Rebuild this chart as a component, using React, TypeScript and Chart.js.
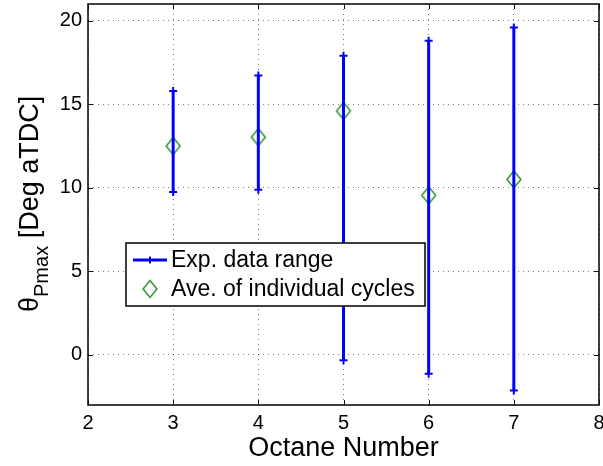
import React, { useEffect, useRef } from 'react';
import { Chart, registerables } from 'chart.js';

Chart.register(...registerables);

// ---- data ----
const octaneNumbers = [3, 4, 5, 6, 7];
const rangeMin = [9.75, 9.89, -0.32, -1.13, -2.13];
const rangeMax = [15.8, 16.72, 17.9, 18.8, 19.6];
const cycleAverages = [12.5, 13.03, 14.6, 9.55, 10.5];
const xTicks = [2, 3, 4, 5, 6, 7, 8];
const yTicks = [0, 5, 10, 15, 20];
const legendLabels = ['Exp. data range', 'Ave. of individual cycles'];
const xTitle = 'Octane Number';
const yTitleMain = 'θ';
const yTitleSub = 'Pmax';
const yTitleRest = ' [Deg aTDC]';

const FONT = '"Liberation Sans", Arial, Helvetica, sans-serif';
const BLUE = '#0000ff';
const GREEN = '#118811';

function makeDiamond(w: number, h: number, color: string, lw: number) {
  const c = document.createElement('canvas');
  c.width = w + 4;
  c.height = h + 4;
  const g = c.getContext('2d')!;
  g.strokeStyle = color;
  g.lineWidth = lw;
  g.beginPath();
  g.moveTo(c.width / 2, 2);
  g.lineTo(c.width - 2, c.height / 2);
  g.lineTo(c.width / 2, c.height - 2);
  g.lineTo(2, c.height / 2);
  g.closePath();
  g.stroke();
  return c;
}

function drawCross(ctx: CanvasRenderingContext2D, x: number, y: number, r: number) {
  ctx.beginPath();
  ctx.moveTo(x - r, y);
  ctx.lineTo(x + r, y);
  ctx.moveTo(x, y - r);
  ctx.lineTo(x, y + r);
  ctx.stroke();
}

const decorPlugin = {
  id: 'decor',
  afterDraw(chart: any) {
    const ctx: CanvasRenderingContext2D = chart.ctx;
    const a = chart.chartArea;
    const xs = chart.scales.x;
    const ys = chart.scales.y;
    ctx.save();
    // inside tick marks
    ctx.strokeStyle = '#111';
    ctx.lineWidth = 1;
    ctx.setLineDash([]);
    const tl = 5;
    xTicks.forEach((v) => {
      const px = Math.round(xs.getPixelForValue(v)) + 0.5;
      ctx.beginPath();
      ctx.moveTo(px, a.bottom);
      ctx.lineTo(px, a.bottom - tl);
      ctx.moveTo(px, a.top);
      ctx.lineTo(px, a.top + tl);
      ctx.stroke();
    });
    yTicks.forEach((v) => {
      const py = Math.round(ys.getPixelForValue(v)) + 0.5;
      ctx.beginPath();
      ctx.moveTo(a.left, py);
      ctx.lineTo(a.left + tl, py);
      ctx.moveTo(a.right, py);
      ctx.lineTo(a.right - tl, py);
      ctx.stroke();
    });
    // axes box
    ctx.lineWidth = 1.6;
    ctx.strokeStyle = '#111';
    ctx.strokeRect(a.left, a.top, a.right - a.left, a.bottom - a.top);

    // legend
    const lx = 126, ly = 243, lw = 299, lh = 63;
    ctx.fillStyle = '#fff';
    ctx.fillRect(lx, ly, lw, lh);
    ctx.lineWidth = 1.5;
    ctx.strokeStyle = '#000';
    ctx.strokeRect(lx, ly, lw, lh);
    const row1 = 260, row2 = 289;
    ctx.strokeStyle = BLUE;
    ctx.lineWidth = 3;
    ctx.beginPath();
    ctx.moveTo(133, row1);
    ctx.lineTo(167, row1);
    ctx.stroke();
    ctx.lineWidth = 2;
    drawCross(ctx, 150, row1, 3.5);
    const dia = makeDiamond(14, 17, GREEN, 1.3);
    ctx.drawImage(dia, 150 - dia.width / 2, row2 - dia.height / 2);
    ctx.fillStyle = '#000';
    ctx.font = `23px ${FONT}`;
    ctx.textAlign = 'left';
    ctx.textBaseline = 'middle';
    ctx.fillText(legendLabels[0], 171, row1 + 1);
    ctx.fillText(legendLabels[1], 171, row2 + 1);

    // x title
    ctx.font = `27px ${FONT}`;
    ctx.textAlign = 'center';
    ctx.textBaseline = 'alphabetic';
    ctx.fillText(xTitle, (a.left + a.right) / 2, 456);

    // y title (rotated, with subscript)
    ctx.translate(38, 312);
    ctx.rotate(-Math.PI / 2);
    ctx.textAlign = 'left';
    ctx.font = `27px ${FONT}`;
    ctx.fillText(yTitleMain, 0, 0);
    let off = ctx.measureText(yTitleMain).width;
    ctx.font = `20px ${FONT}`;
    ctx.fillText(yTitleSub, off, 10);
    off += ctx.measureText(yTitleSub).width;
    ctx.font = `27px ${FONT}`;
    ctx.fillText(yTitleRest, off, 0);
    ctx.restore();
  },
};

export default function App() {
  const ref = useRef<HTMLCanvasElement>(null);
  useEffect(() => {
    const canvas = ref.current!;
    const rangeData: any[] = [];
    octaneNumbers.forEach((x, i) => {
      rangeData.push({ x, y: rangeMin[i] }, { x, y: rangeMax[i] }, { x, y: null });
    });
    const aveData = octaneNumbers.map((x, i) => ({ x, y: cycleAverages[i] }));
    const diamond = makeDiamond(14, 17, GREEN, 1.3);

    const chart = new Chart(canvas, {
      type: 'scatter',
      data: {
        datasets: [
          {
            label: legendLabels[0],
            data: rangeData,
            showLine: true,
            spanGaps: false,
            borderColor: BLUE,
            backgroundColor: BLUE,
            borderWidth: 3,
            pointStyle: 'cross',
            pointRadius: 4,
            pointBorderWidth: 2,
            pointBorderColor: BLUE,
          },
          {
            label: legendLabels[1],
            data: aveData,
            showLine: false,
            pointStyle: diamond as any,
            pointRadius: 8,
          },
        ],
      } as any,
      options: {
        animation: false,
        responsive: false,
        devicePixelRatio: 1,
        layout: { autoPadding: false, padding: { top: 4, right: 4, left: 0, bottom: 0 } },
        plugins: { legend: { display: false }, tooltip: { enabled: false } },
        scales: {
          x: {
            type: 'linear',
            min: 2,
            max: 8,
            afterBuildTicks: (s: any) => {
              s.ticks = xTicks.map((v) => ({ value: v }));
            },
            afterFit: (s: any) => {
              s.height = 61;
              s.paddingLeft = 0;
              s.paddingRight = 0;
            },
            ticks: {
              color: '#000',
              font: { family: FONT, size: 20 },
              padding: 6,
              maxRotation: 0,
              autoSkip: false,
            },
            grid: { color: 'rgba(0,0,0,0.5)', lineWidth: 1, drawTicks: false },
            border: { display: false, dash: [1, 4] },
          },
          y: {
            type: 'linear',
            min: -3,
            max: 21,
            afterBuildTicks: (s: any) => {
              s.ticks = yTicks.map((v) => ({ value: v }));
            },
            afterFit: (s: any) => {
              s.width = 88;
              s.paddingTop = 0;
              s.paddingBottom = 0;
            },
            ticks: {
              color: '#000',
              font: { family: FONT, size: 20 },
              padding: 6,
              autoSkip: false,
            },
            grid: { color: 'rgba(0,0,0,0.5)', lineWidth: 1, drawTicks: false },
            border: { display: false, dash: [1, 4] },
          },
        },
      } as any,
      plugins: [decorPlugin],
    });
    return () => chart.destroy();
  }, []);

  return (
    <div style={{ position: 'absolute', left: 0, top: 0, width: 603, height: 466, background: '#fff' }}>
      <canvas ref={ref} width={603} height={466} style={{ display: 'block', width: 603, height: 466 }} />
    </div>
  );
}
